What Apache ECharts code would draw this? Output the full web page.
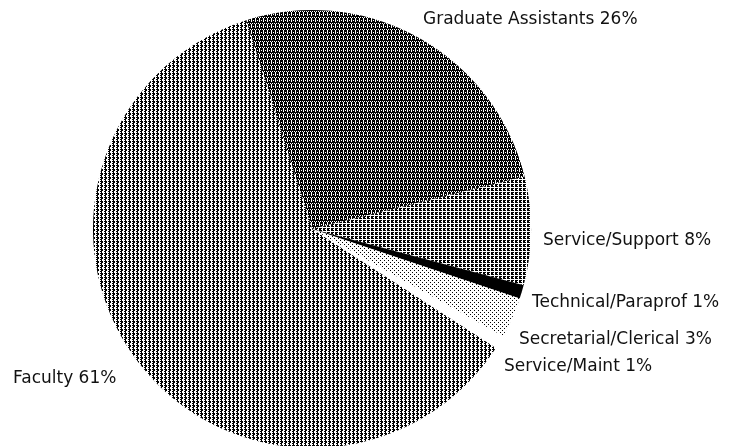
<!DOCTYPE html>
<html>
<head>
<meta charset="utf-8">
<script src="https://cdn.jsdelivr.net/npm/echarts@6/dist/echarts.min.js"></script>
<style>
  html, body { margin: 0; padding: 0; background: #fff; }
  #chart { width: 730px; height: 446px; }
</style>
</head>
<body>
<div id="chart"></div>
<script>
// Staff composition by employee group (percent of total)
const categories = [
  'Graduate Assistants',
  'Service/Support',
  'Technical/Paraprof',
  'Secretarial/Clerical',
  'Service/Maint',
  'Faculty'
];
const shares = [26, 8, 1, 3, 1, 61];

// Where each label's left edge / vertical middle sits
const labelAnchors = [
  [423, 20],
  [543, 241],
  [532, 303],
  [519, 340],
  [504, 367],
  [13, 379]
];

// Build a small repeating bitmap tile from rows of '#' (ink) and '.' (paper)
function tile(rows) {
  const h = rows.length, w = rows[0].length;
  const c = document.createElement('canvas');
  c.width = w; c.height = h;
  const g = c.getContext('2d');
  g.fillStyle = '#fff';
  g.fillRect(0, 0, w, h);
  g.fillStyle = '#000';
  for (let y = 0; y < h; y++) {
    for (let x = 0; x < w; x++) {
      if (rows[y][x] === '#') g.fillRect(x, y, 1, 1);
    }
  }
  return { image: c, repeat: 'repeat' };
}

const fills = [
  // dense horizontal bars crossed by thin light columns
  tile([
    '###.',
    '###.',
    '#.#.',
    '###.',
    '####',
    '.#.#'
  ]),
  // open grid of light verticals
  tile([
    '##.#',
    '#..#',
    '##.#',
    '....'
  ]),
  '#000',
  // sparse dots
  tile([
    '#...',
    '....',
    '..#.',
    '....'
  ]),
  '#ffffff',
  // crosses halftone
  tile([
    '.#..',
    '###.',
    '.##.',
    '##..'
  ])
];

const chart = echarts.init(document.getElementById('chart'), null, { renderer: 'canvas' });

chart.setOption({
  animation: false,
  backgroundColor: '#fff',
  series: [{
    type: 'pie',
    center: [312, 229],
    radius: 219,
    startAngle: 107.5,
    clockwise: true,
    avoidLabelOverlap: false,
    silent: true,
    data: categories.map((name, i) => ({
      name: name,
      value: shares[i],
      itemStyle: { color: fills[i] }
    })),
    itemStyle: { borderWidth: 0 },
    label: {
      show: true,
      position: 'outside',
      formatter: '{b} {c}%',
      color: '#111',
      fontFamily: 'DejaVu Sans',
      fontSize: 17
    },
    labelLine: { show: false },
    labelLayout: function (p) {
      const a = labelAnchors[p.dataIndex];
      return { x: a[0], y: a[1], align: 'left', verticalAlign: 'middle' };
    }
  }]
});
</script>
</body>
</html>
